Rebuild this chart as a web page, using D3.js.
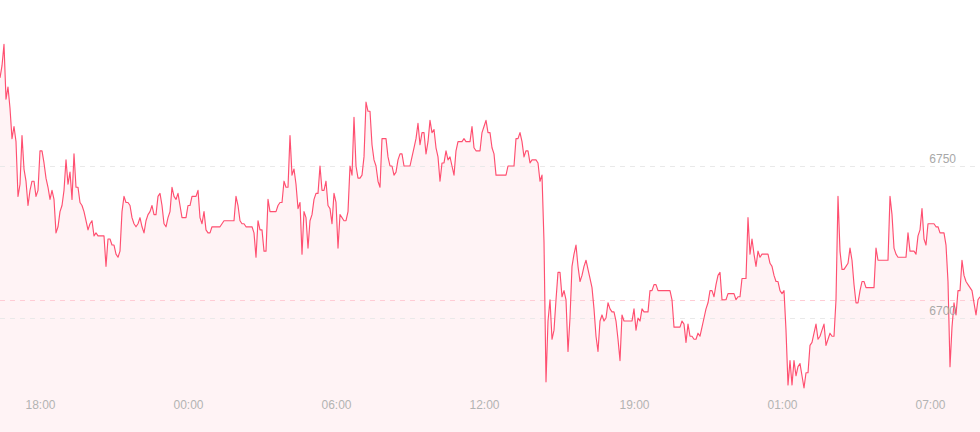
<!DOCTYPE html>
<html>
<head>
<meta charset="utf-8">
<script src="https://cdn.jsdelivr.net/npm/d3@7"></script>
<style>
  html, body { margin: 0; padding: 0; background: #ffffff; }
  svg { display: block; }
  text { font-family: "Liberation Sans", Arial, sans-serif; }
</style>
</head>
<body>
<svg id="chart" width="980" height="432"></svg>
<script>
// ---- data ----
const prices = [
6779,6783,6790,6772,6776,6769,6759,6763,6758,6740,
6744,6760,6749,6745,6737,6742,6745,6745,6740,6742,
6755,6755,6751,6746,6743,6739,6742,6739,6728,6730,
6735,6737,6742,6752,6744,6748,6739,6754,6743,6743,
6738,6737,6735,6732,6729,6731,6732,6727,6728,6727,
6727,6727,6727,6717,6726,6726,6724,6724,6721,6720,
6722,6735,6740,6738,6738,6737,6733,6731,6730,6731,
6733,6730,6728,6732,6734,6735,6737,6734,6734,6740,
6741,6737,6731,6730,6733,6735,6743,6740,6739,6741,
6737,6733,6733,6733,6737,6737,6740,6740,6740,6742,
6733,6731,6735,6729,6728,6728,6730,6730,6730,6730,
6730,6731,6732,6732,6732,6732,6732,6732,6740,6737,
6732,6731,6731,6730,6730,6730,6730,6728,6720,6732,
6729,6729,6722,6722,6739,6735,6735,6735,6735,6737,
6738,6738,6745,6743,6743,6760,6747,6749,6744,6736,
6738,6721,6735,6733,6723,6732,6734,6739,6741,6741,
6750,6742,6742,6745,6737,6736,6731,6741,6738,6723,
6734,6733,6732,6732,6735,6750,6747,6766,6750,6746,
6746,6747,6753,6771,6768,6768,6757,6752,6750,6745,
6743,6759,6759,6759,6753,6750,6750,6747,6748,6752,
6754,6754,6750,6750,6750,6750,6753,6756,6759,6764,
6757,6761,6761,6754,6758,6765,6761,6762,6756,6753,
6745,6751,6751,6755,6752,6753,6750,6747,6755,6758,
6758,6758,6759,6758,6758,6758,6763,6756,6755,6755,
6755,6761,6763,6765,6761,6761,6756,6754,6747,6747,
6747,6747,6747,6747,6750,6750,6750,6750,6759,6759,
6761,6758,6753,6755,6755,6751,6752,6752,6752,6751,
6745,6747,6725,6679,6699,6706,6693,6696,6706,6715,
6715,6707,6709,6706,6689,6700,6717,6721,6724,6717,
6712,6714,6717,6719,6716,6713,6710,6703,6694,6689,
6699,6701,6699,6700,6705,6703,6702,6702,6699,6693,
6686,6701,6699,6699,6699,6699,6699,6703,6696,6700,
6699,6703,6702,6702,6702,6709,6709,6711,6711,6709,
6709,6709,6709,6709,6709,6709,6706,6697,6697,6697,
6697,6699,6698,6692,6698,6694,6694,6693,6693,6695,
6694,6697,6700,6703,6705,6709,6709,6707,6711,6714,
6715,6706,6706,6706,6708,6708,6708,6708,6706,6707,
6707,6713,6713,6713,6733,6721,6726,6721,6717,6722,
6720,6721,6721,6721,6721,6718,6717,6714,6712,6712,
6709,6708,6709,6696,6678,6686,6678,6686,6681,6684,
6685,6681,6677,6682,6682,6691,6692,6695,6698,6693,
6694,6696,6698,6691,6693,6695,6694,6694,6706,6740,
6722,6716,6716,6717,6718,6723,6719,6711,6705,6705,
6709,6712,6712,6710,6710,6710,6710,6710,6723,6719,
6719,6719,6719,6719,6719,6740,6734,6723,6721,6720,
6720,6720,6720,6720,6728,6722,6722,6722,6721,6727,
6729,6736,6726,6724,6731,6731,6731,6731,6730,6730,
6728,6728,6728,6724,6712,6684,6697,6705,6701,6709,
6709,6719,6714,6712,6711,6710,6709,6705,6701,6706,
6707
];
const tickLabels = ["18:00", "00:00", "06:00", "12:00", "19:00", "01:00", "07:00"];
const tickPoints = [20, 94, 168, 242, 317, 391, 465];   // index of the data point each label sits on
const gridValues = [6700, 6750];
const refValue = [6706];                                   // reference (pink dashed) level

// ---- layout ----
const W = 980, H = 432;
const svg = d3.select("#chart");

const x = d3.scaleLinear().domain([0, prices.length - 1]).range([0, W]);
const y = d3.scaleLinear().domain([6700, 6750]).range([318, 166]);

// area fill
const area = d3.area()
  .x((d, i) => x(i))
  .y0(H)
  .y1(d => y(d));
svg.append("path")
  .datum(prices)
  .attr("d", area)
  .attr("fill", "#fff3f5");

// grid lines
svg.selectAll("line.grid")
  .data(gridValues)
  .enter().append("line")
  .attr("class", "grid")
  .attr("x1", 0).attr("x2", W)
  .attr("y1", d => Math.round(y(d)) + 0.5)
  .attr("y2", d => Math.round(y(d)) + 0.5)
  .attr("stroke", "#e9e9e9")
  .attr("stroke-width", 1)
  .attr("stroke-dasharray", "5,5");

// reference line
svg.selectAll("line.ref")
  .data(refValue)
  .enter().append("line")
  .attr("class", "ref")
  .attr("x1", 0).attr("x2", W)
  .attr("y1", d => Math.round(y(d)) + 0.5)
  .attr("y2", d => Math.round(y(d)) + 0.5)
  .attr("stroke", "#ffccd5")
  .attr("stroke-width", 1)
  .attr("stroke-dasharray", "5,5");

// price line
const line = d3.line()
  .x((d, i) => x(i))
  .y(d => y(d));
svg.append("path")
  .datum(prices)
  .attr("d", line)
  .attr("fill", "none")
  .attr("stroke", "#ff4f70")
  .attr("stroke-width", 1.15)
  .attr("stroke-linejoin", "round");

// y labels
svg.selectAll("text.ylab")
  .data(gridValues)
  .enter().append("text")
  .attr("class", "ylab")
  .attr("x", 956)
  .attr("y", d => y(d) - 3)
  .attr("text-anchor", "end")
  .attr("font-size", 12)
  .attr("fill", "#a8a8a8")
  .text(d => d);

// x axis labels
const xAxis = d3.axisBottom(x)
  .tickValues(tickPoints)
  .tickFormat((d, i) => tickLabels[i])
  .tickSize(0)
  .tickPadding(0);
const gx = svg.append("g")
  .attr("transform", "translate(0,400)")
  .call(xAxis);
gx.select(".domain").remove();
gx.selectAll("text")
  .attr("font-size", 12)
  .attr("font-family", "\"Liberation Sans\", Arial, sans-serif")
  .attr("fill", "#b3b3b3")
  .attr("dy", "0.71em");
</script>
</body>
</html>
